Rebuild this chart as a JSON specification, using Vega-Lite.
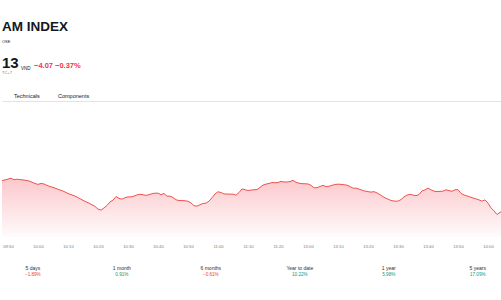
{
  "$schema": "https://vega.github.io/schema/vega-lite/v6.json",
  "padding": {"left": 0, "top": 19, "right": 0, "bottom": 0},
  "background": "white",
  "bounds": "flush",
  "spacing": 0,
  "config": {
    "view": {"stroke": null},
    "font": "Liberation Sans",
    "title": {"anchor": "start", "frame": "group", "offset": 0, "font": "Liberation Sans"},
    "concat": {"spacing": 0}
  },
  "vconcat": [
    {
      "width": 501, "height": 10.6,
      "data": {"values": []},
      "mark": "rule", "encoding": {},
      "title": {"text": "AM INDEX", "fontSize": 13.5, "fontWeight": "bold", "color": "#131722"}
    },
    {
      "width": 501, "height": 26.6,
      "data": {"values": []},
      "mark": "rule", "encoding": {},
      "title": {"text": "OSE", "fontSize": 4, "fontWeight": "normal", "color": "#131722"}
    },
    {
      "bounds": "flush",
      "spacing": 0,
      "hconcat": [
        {
          "width": 19, "height": 7.0,
          "data": {"values": []},
          "mark": "rule", "encoding": {},
          "title": {"text": "13", "fontSize": 15, "fontWeight": "bold", "color": "#131722"}
        },
        {
          "width": 13, "height": 7.0,
          "data": {"values": []},
          "mark": "rule", "encoding": {},
          "title": {"text": "VND", "fontSize": 4.5, "fontWeight": "normal", "color": "#131722", "dy": -0.7}
        },
        {
          "width": 100, "height": 7.0,
          "data": {"values": []},
          "mark": "rule", "encoding": {},
          "title": {"text": "−4.07 −0.37%", "fontSize": 7.5, "fontWeight": "bold", "color": "#f23645", "dy": -1.2}
        }
      ]
    },
    {
      "width": 501, "height": 25.7,
      "data": {"values": []},
      "mark": "rule", "encoding": {},
      "title": {"text": "TC+7", "fontSize": 4, "fontWeight": "normal", "color": "#787b86", "dy": 4}
    },
    {
      "bounds": "flush",
      "spacing": 0,
      "hconcat": [
        {
          "width": 56, "height": 1.4,
          "data": {"values": []},
          "mark": "rule", "encoding": {},
          "title": {"text": "Technicals", "fontSize": 5.5, "fontWeight": "normal", "color": "#131722", "dx": 12, "dy": 2}
        },
        {
          "width": 100, "height": 1.4,
          "data": {"values": []},
          "mark": "rule", "encoding": {},
          "title": {"text": "Components", "fontSize": 5.5, "fontWeight": "normal", "color": "#131722", "dy": 2}
        }
      ]
    },
    {
      "width": 501, "height": 136,
      "data": {"values": [
        {"t": "09:48", "v": 1103.71}, {"t": "09:49", "v": 1103.86}, {"t": "09:50", "v": 1104.08}, {"t": "09:51", "v": 1104.31},
        {"t": "09:52", "v": 1103.91}, {"t": "09:53", "v": 1104.06}, {"t": "09:54", "v": 1103.93}, {"t": "09:55", "v": 1103.88},
        {"t": "09:56", "v": 1103.76}, {"t": "09:57", "v": 1103.61}, {"t": "09:58", "v": 1103.31}, {"t": "09:59", "v": 1102.98},
        {"t": "10:00", "v": 1102.76}, {"t": "10:01", "v": 1102.98}, {"t": "10:02", "v": 1102.86}, {"t": "10:03", "v": 1102.51},
        {"t": "10:04", "v": 1102.21}, {"t": "10:05", "v": 1102.01}, {"t": "10:06", "v": 1101.73}, {"t": "10:07", "v": 1101.43},
        {"t": "10:08", "v": 1101.18}, {"t": "10:09", "v": 1100.86}, {"t": "10:10", "v": 1100.48}, {"t": "10:11", "v": 1100.21},
        {"t": "10:12", "v": 1099.93}, {"t": "10:13", "v": 1099.58}, {"t": "10:14", "v": 1099.18}, {"t": "10:15", "v": 1098.76},
        {"t": "10:16", "v": 1098.38}, {"t": "10:17", "v": 1098.06}, {"t": "10:18", "v": 1097.66}, {"t": "10:19", "v": 1097.26},
        {"t": "10:20", "v": 1096.56}, {"t": "10:21", "v": 1096.33}, {"t": "10:22", "v": 1096.86}, {"t": "10:23", "v": 1097.46},
        {"t": "10:24", "v": 1098.38}, {"t": "10:25", "v": 1098.81}, {"t": "10:26", "v": 1099.71}, {"t": "10:27", "v": 1099.26},
        {"t": "10:28", "v": 1099.06}, {"t": "10:29", "v": 1099.43}, {"t": "10:30", "v": 1099.63}, {"t": "10:31", "v": 1099.63},
        {"t": "10:32", "v": 1099.83}, {"t": "10:33", "v": 1100.13}, {"t": "10:34", "v": 1100.28}, {"t": "10:35", "v": 1100.16},
        {"t": "10:36", "v": 1100.01}, {"t": "10:37", "v": 1100.18}, {"t": "10:38", "v": 1100.43}, {"t": "10:39", "v": 1100.56},
        {"t": "10:40", "v": 1100.56}, {"t": "10:41", "v": 1100.18}, {"t": "10:42", "v": 1100.48}, {"t": "10:43", "v": 1099.81},
        {"t": "10:44", "v": 1099.81}, {"t": "10:45", "v": 1099.48}, {"t": "10:46", "v": 1098.91}, {"t": "10:47", "v": 1098.71},
        {"t": "10:48", "v": 1098.71}, {"t": "10:49", "v": 1098.66}, {"t": "10:50", "v": 1098.53}, {"t": "10:51", "v": 1098.13},
        {"t": "10:52", "v": 1097.43}, {"t": "10:53", "v": 1097.31}, {"t": "10:54", "v": 1097.66}, {"t": "10:55", "v": 1097.98},
        {"t": "10:56", "v": 1098.06}, {"t": "10:57", "v": 1098.56}, {"t": "10:58", "v": 1099.41}, {"t": "10:59", "v": 1100.36},
        {"t": "11:00", "v": 1100.91}, {"t": "11:01", "v": 1100.71}, {"t": "11:02", "v": 1100.38}, {"t": "11:03", "v": 1100.33},
        {"t": "11:04", "v": 1100.31}, {"t": "11:05", "v": 1100.31}, {"t": "11:06", "v": 1100.06}, {"t": "11:07", "v": 1100.71},
        {"t": "11:08", "v": 1101.61}, {"t": "11:09", "v": 1101.43}, {"t": "11:10", "v": 1101.21}, {"t": "11:11", "v": 1101.33},
        {"t": "11:12", "v": 1101.41}, {"t": "11:13", "v": 1101.46}, {"t": "11:14", "v": 1102.01}, {"t": "11:15", "v": 1102.58},
        {"t": "11:16", "v": 1102.83}, {"t": "11:17", "v": 1102.98}, {"t": "11:18", "v": 1103.21}, {"t": "11:19", "v": 1103.16},
        {"t": "11:20", "v": 1103.21}, {"t": "11:21", "v": 1103.51}, {"t": "11:22", "v": 1103.36}, {"t": "11:23", "v": 1103.36},
        {"t": "11:24", "v": 1103.46}, {"t": "11:25", "v": 1103.76}, {"t": "11:26", "v": 1103.26}, {"t": "11:27", "v": 1103.06},
        {"t": "11:28", "v": 1102.93}, {"t": "11:29", "v": 1102.91},
        {"t": "13:00", "v": 1102.86}, {"t": "13:01", "v": 1102.53}, {"t": "13:02", "v": 1101.88}, {"t": "13:03", "v": 1101.93},
        {"t": "13:04", "v": 1102.23}, {"t": "13:05", "v": 1102.51}, {"t": "13:06", "v": 1102.21}, {"t": "13:07", "v": 1102.28},
        {"t": "13:08", "v": 1102.51}, {"t": "13:09", "v": 1102.73}, {"t": "13:10", "v": 1102.81}, {"t": "13:11", "v": 1102.76},
        {"t": "13:12", "v": 1102.66}, {"t": "13:13", "v": 1102.56}, {"t": "13:14", "v": 1102.21}, {"t": "13:15", "v": 1101.81},
        {"t": "13:16", "v": 1101.81}, {"t": "13:17", "v": 1101.58}, {"t": "13:18", "v": 1101.31}, {"t": "13:19", "v": 1101.08},
        {"t": "13:20", "v": 1100.93}, {"t": "13:21", "v": 1100.83}, {"t": "13:22", "v": 1100.93}, {"t": "13:23", "v": 1100.63},
        {"t": "13:24", "v": 1100.18}, {"t": "13:25", "v": 1099.68}, {"t": "13:26", "v": 1099.28}, {"t": "13:27", "v": 1098.93},
        {"t": "13:28", "v": 1098.68}, {"t": "13:29", "v": 1098.56}, {"t": "13:30", "v": 1098.56}, {"t": "13:31", "v": 1098.96},
        {"t": "13:32", "v": 1099.63}, {"t": "13:33", "v": 1100.08}, {"t": "13:34", "v": 1100.28}, {"t": "13:35", "v": 1100.08},
        {"t": "13:36", "v": 1099.93}, {"t": "13:37", "v": 1100.21}, {"t": "13:38", "v": 1101.13}, {"t": "13:39", "v": 1101.36},
        {"t": "13:40", "v": 1101.83}, {"t": "13:41", "v": 1101.38}, {"t": "13:42", "v": 1101.06}, {"t": "13:43", "v": 1100.96},
        {"t": "13:44", "v": 1101.01}, {"t": "13:45", "v": 1101.06}, {"t": "13:46", "v": 1101.41}, {"t": "13:47", "v": 1101.18},
        {"t": "13:48", "v": 1101.03}, {"t": "13:49", "v": 1101.41}, {"t": "13:50", "v": 1101.43}, {"t": "13:51", "v": 1100.51},
        {"t": "13:52", "v": 1100.11}, {"t": "13:53", "v": 1099.86}, {"t": "13:54", "v": 1099.61}, {"t": "13:55", "v": 1099.36},
        {"t": "13:56", "v": 1099.13}, {"t": "13:57", "v": 1098.88}, {"t": "13:58", "v": 1098.56}, {"t": "13:59", "v": 1098.88},
        {"t": "14:00", "v": 1098.08}, {"t": "14:01", "v": 1096.88}, {"t": "14:02", "v": 1096.13}, {"t": "14:03", "v": 1095.21},
        {"t": "14:04", "v": 1095.76}, {"t": "14:05", "v": 1096.13}
      ]},
      "encoding": {
        "y": {"field": "v", "type": "quantitative", "scale": {"domain": [1089.6, 1123.6], "nice": false, "zero": false}, "axis": null}
      },
      "layer": [
        {
          "mark": {
            "type": "area",
            "fill": {
              "gradient": "linear", "x1": 0, "y1": 0, "x2": 0, "y2": 1,
              "stops": [
                {"offset": 0, "color": "rgba(242,54,69,0.28)"},
                {"offset": 1, "color": "rgba(242,54,69,0.02)"}
              ]
            }
          },
          "encoding": {
            "x": {
              "field": "t", "type": "ordinal", "sort": null,
              "scale": {"type": "point", "padding": 0},
              "axis": {
                "orient": "bottom",
                "values": ["09:50", "10:00", "10:10", "10:20", "10:30", "10:40", "10:50", "11:00", "11:10", "11:20", "13:00", "13:10", "13:20", "13:30", "13:40", "13:50", "14:00"],
                "labelAngle": 0, "labelFontSize": 4.2, "labelColor": "#787b86", "labelFont": "Liberation Sans",
                "ticks": false, "domain": false, "grid": false, "labelPadding": 7, "title": null
              }
            },
            "y2": {"datum": 1089.6}
          }
        },
        {
          "mark": {"type": "line", "color": "#ef5350", "strokeWidth": 1},
          "encoding": {
            "x": {
              "field": "t", "type": "ordinal", "sort": null,
              "scale": {"type": "point", "padding": 0},
              "axis": {"orient": "top", "labels": false, "ticks": false, "domain": true, "domainColor": "#e0e3eb", "domainWidth": 1, "grid": false, "title": null}
            }
          }
        }
      ]
    },
    {
      "width": 501, "height": 58,
      "data": {"values": [
        {"period": "5 days", "change": -0.0189},
        {"period": "1 month", "change": 0.0091},
        {"period": "6 months", "change": -0.0061},
        {"period": "Year to date", "change": 0.1022},
        {"period": "1 year", "change": 0.0598},
        {"period": "5 years", "change": 0.1709}
      ]},
      "encoding": {
        "x": {"field": "period", "type": "nominal", "sort": null, "scale": {"type": "point", "padding": 0.315, "align": 0.55}, "axis": null}
      },
      "layer": [
        {
          "mark": {"type": "text", "fontSize": 5, "dy": 2, "color": "#2a2e39", "font": "Liberation Sans"},
          "encoding": {"text": {"field": "period"}}
        },
        {
          "mark": {"type": "text", "fontSize": 4.6, "dy": 9, "font": "Liberation Sans"},
          "encoding": {
            "text": {"field": "change", "format": ".2%"},
            "color": {"condition": {"test": "datum.change < 0", "value": "#f23645"}, "value": "#089981"}
          }
        }
      ]
    }
  ]
}
